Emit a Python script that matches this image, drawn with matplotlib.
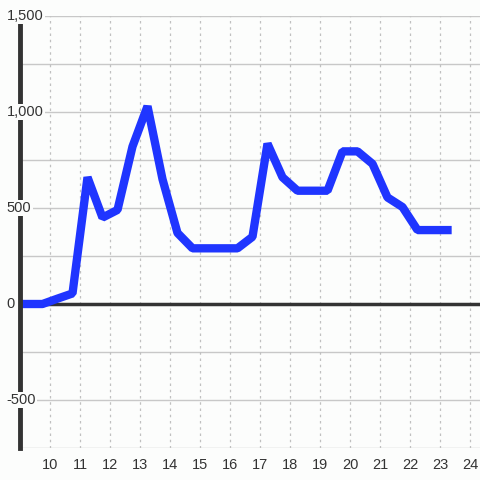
import matplotlib
matplotlib.use("Agg")
import matplotlib.pyplot as plt
import numpy as np

# half-hour samples
hours = [8.75, 9.25, 9.75, 10.25, 10.75, 11.25, 11.75, 12.25, 12.75, 13.25,
         13.75, 14.25, 14.75, 15.25, 15.75, 16.25, 16.75, 17.25, 17.75, 18.25,
         18.75, 19.25, 19.75, 20.25, 20.75, 21.25, 21.75, 22.25, 22.75, 23.25]
values = [0, 0, 0, 28, 55, 660, 450, 490, 820, 1030,
          650, 370, 290, 290, 290, 290, 350, 835, 660, 590,
          590, 590, 795, 795, 730, 555, 505, 385, 385, 385]

x_ticks = list(range(10, 25))
y_ticks = [1500, 1000, 500, 0, -500]
y_labels = ["1,500", "1,000", "500", "0", "-500"]

bg = "#fcfdfc"
plt.rcParams['font.family'] = ['Liberation Sans', 'DejaVu Sans']

fig = plt.figure(figsize=(4.8, 4.8), dpi=100, facecolor=bg)
ax = fig.add_axes([20 / 480, 32 / 480, 460 / 480, 432 / 480], facecolor=bg)
ax.set_xlim(9, 9 + 460 / 30)
ax.set_ylim(-750, 1500)

# grid
for v in np.arange(-750, 1501, 250):
    if v != 0:
        ax.axhline(v, color="#c8c8c8", lw=1, zorder=1)
for t in x_ticks:
    ax.axvline(t, color="#c0c0c0", lw=0.9, ls=(0, (2, 3)), zorder=1)
ax.axhline(0, color="#333333", lw=2.5, zorder=2)

ax.plot(hours, values, color="#1f35ff", lw=6, solid_joinstyle="bevel", zorder=3)

for s in ["top", "right", "bottom"]:
    ax.spines[s].set_visible(False)
ax.spines["left"].set_color("#333333")
ax.spines["left"].set_linewidth(3.5)
ax.spines["left"].set_zorder(4)

ax.set_xticks(x_ticks)
ax.set_xticklabels([str(t) for t in x_ticks], fontsize=10.5, color="#333333")
ax.tick_params(axis="x", length=0, pad=7)
ax.set_yticks([])

for v, lab in zip(y_ticks, y_labels):
    ax.text(8.55, v, lab, fontsize=10.5, color="#333333", ha="left", va="center",
            bbox=dict(fc=bg, ec="none", pad=1.0), zorder=6, clip_on=False)

fig.savefig("out.png", dpi=100, facecolor=bg)
